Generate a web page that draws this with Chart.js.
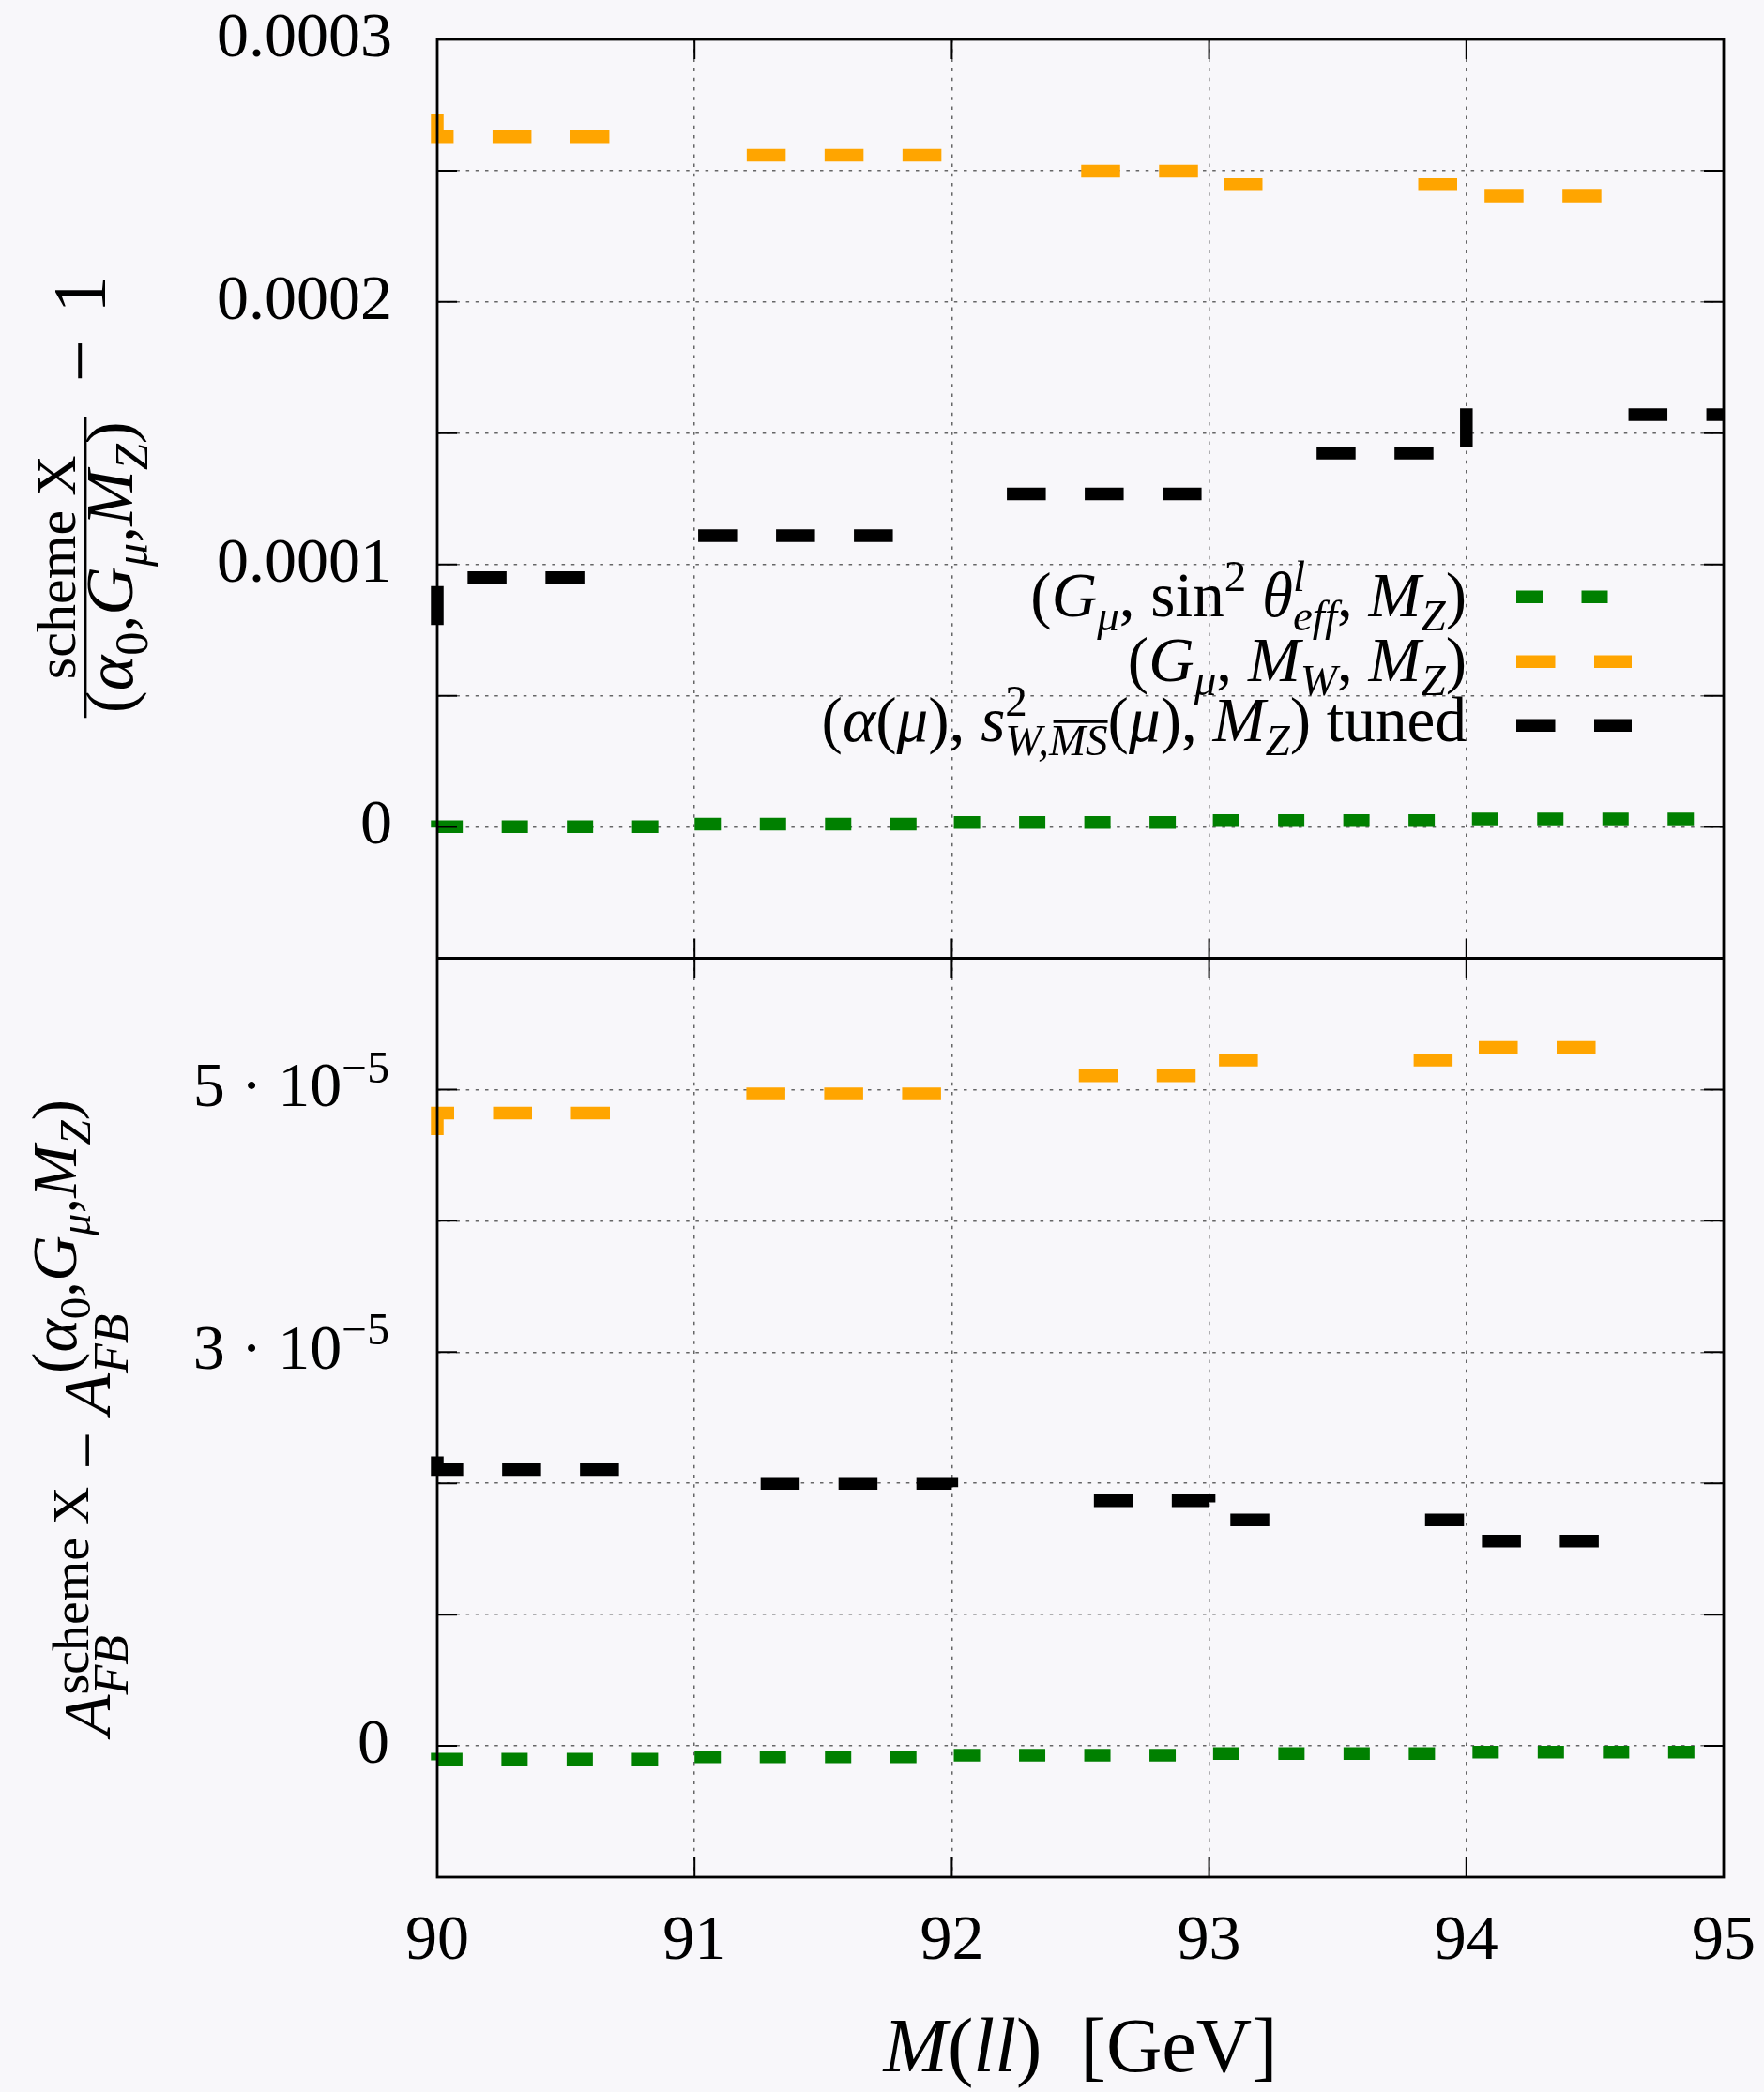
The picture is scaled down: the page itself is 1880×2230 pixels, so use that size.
<!DOCTYPE html>
<html>
<head>
<meta charset="utf-8">
<title>Scheme comparison around the Z peak</title>
<script src="https://cdn.jsdelivr.net/npm/chart.js@4.4.1/dist/chart.umd.min.js"></script>
<style>
  html, body { margin: 0; padding: 0; background: #f8f7fa; }
  canvas { display: block; }
</style>
</head>
<body>
<canvas id="schemeChart" width="1880" height="2230"></canvas>
<script>
// M(ll) in GeV; each value is the level drawn over the bin ending at that point
const massPoints = [90, 91, 92, 93, 94, 95, 96];

// upper panel: scheme X / (alpha0, Gmu, MZ) - 1
const ratioSinEff = [-2e-7, 1e-7, 1.13e-6, 1.73e-6, 2.44e-6, 3.1e-6];
const ratioMW = [2.715e-4, 2.629e-4, 2.559e-4, 2.498e-4, 2.447e-4, 2.403e-4];
const ratioMSbar = [7.69e-5, 9.5e-5, 1.11e-4, 1.269e-4, 1.424e-4, 1.571e-4, 1.623e-4];

// lower panel: A_FB(scheme X) - A_FB(alpha0, Gmu, MZ)
const afbSinEff = [-1.1e-6, -1.02e-6, -8.3e-7, -7.1e-7, -5.9e-7, -4.8e-7];
const afbMW = [4.653e-5, 4.821e-5, 4.968e-5, 5.105e-5, 5.224e-5, 5.321e-5];
const afbMSbar = [2.205e-5, 2.106e-5, 1.999e-5, 1.868e-5, 1.721e-5, 1.561e-5];

// ticks and tick labels
const massTicks = [90, 91, 92, 93, 94, 95];
const ratioTicks = [-5e-5, 0, 5e-5, 1e-4, 1.5e-4, 2e-4, 2.5e-4, 3e-4];
const ratioLabelled = [0, 0.0001, 0.0002, 0.0003];
const ratioLabelText = ['0', '0.0001', '0.0002', '0.0003'];
const afbTicks = [-1e-5, 0, 1e-5, 2e-5, 3e-5, 4e-5, 5e-5, 6e-5];
const afbLabelled = [0, 3e-5, 5e-5];
const afbLabelMant = ['0', '3', '5'];
const afbLabelExp = ['', '−5', '−5'];

const FAM = '"Liberation Serif", "Times New Roman", serif';
const GREEN = '#008000', ORANGE = '#ffa500', BLACK = '#000000';
const GRID = 'rgba(40,40,40,0.7)';
const longDash = [41.5, 41.5, 41.5, 41.5, 41.5, 166];
const shortDash = [28, 41.5];

// little rich-text helpers for the LaTeX-ish labels
const up = t => ({ t });
const it = t => ({ t, it: true });
const sb = (t, upright) => ({ t, it: !upright, k: 0.7, dy: 0.22 });
const sp = (t, italic) => ({ t, it: !!italic, k: 0.7, dy: -0.4 });
const over = r => Object.assign({}, r, { over: true });
const stack = (top, bottom) => ({ stack: [top, bottom] });

const refSchemeRuns = [up('('), it('α'), sb('0', true), up(','), it('G'), sb('μ'), up(','), it('M'), sb('Z'), up(')')];
const legendRows = [
  [up('('), it('G'), sb('μ'), up(', sin'), sp('2'), up(' '), it('θ'), stack([sp('l', true)], [sb('eff')]), up(', '), it('M'), sb('Z'), up(')')],
  [up('('), it('G'), sb('μ'), up(', '), it('M'), sb('W'), up(', '), it('M'), sb('Z'), up(')')],
  [up('('), it('α'), up('('), it('μ'), up('), '), it('s'), stack([sp('2')], [sb('W,'), over(sb('MS'))]), up('('), it('μ'), up('), '), it('M'), sb('Z'), up(') tuned')]
];

function setFont(ctx, r, size) {
  ctx.font = (r.it ? 'italic ' : '') + (size * (r.k || 1)).toFixed(2) + 'px ' + FAM;
}
function runWidth(ctx, r, size) {
  if (r.stack) return Math.max(runsWidth(ctx, r.stack[0], size), runsWidth(ctx, r.stack[1], size));
  setFont(ctx, r, size);
  return ctx.measureText(r.t).width;
}
function runsWidth(ctx, runs, size) {
  let w = 0;
  for (const r of runs) w += runWidth(ctx, r, size);
  return w;
}
function drawRuns(ctx, runs, size, x, y) {
  let cx = x;
  for (const r of runs) {
    if (r.stack) {
      drawRuns(ctx, r.stack[0], size, cx, y);
      drawRuns(ctx, r.stack[1], size, cx, y);
    } else {
      setFont(ctx, r, size);
      const yy = y + (r.dy || 0) * size;
      ctx.fillText(r.t, cx, yy);
      if (r.over) {
        const s = size * (r.k || 1);
        const w = ctx.measureText(r.t).width;
        ctx.fillRect(cx + 0.1 * s, yy - 0.8 * s, w - 0.1 * s, Math.max(2.5, 0.07 * s));
      }
    }
    cx += runWidth(ctx, r, size);
  }
  return cx - x;
}
function drawCentered(ctx, runs, size, c, y) {
  drawRuns(ctx, runs, size, c - runsWidth(ctx, runs, size) / 2, y);
}
function fitSize(ctx, runs, target) {
  return 100 * target / runsWidth(ctx, runs, 100);
}

function pts(values) {
  return values.map((v, i) => ({ x: massPoints[i], y: v }));
}
function series(label, values, color, dash, axis) {
  return {
    label, data: pts(values), yAxisID: axis,
    borderColor: color, backgroundColor: color,
    borderWidth: 13.5, borderDash: dash, stepped: 'after',
    pointRadius: 0, fill: false, clip: 7
  };
}

function inner(c) {
  const s = c.scale;
  return c.tick.value > s.min + 1e-12 && c.tick.value < s.max - 1e-12 ? GRID : 'rgba(0,0,0,0)';
}
function fixedTicks(list) {
  return s => { s.ticks = list.map(v => ({ value: v })); };
}

const framePlugin = {
  id: 'frame',
  afterDatasetsDraw(chart) {
    const { ctx, chartArea: a, scales } = chart;
    const x = scales.x, yT = scales.yTop, yB = scales.yBot;
    const mid = yB.top;
    const tl = 21;
    ctx.save();
    ctx.strokeStyle = '#000';
    ctx.lineWidth = 2.8;
    ctx.strokeRect(a.left, a.top, a.right - a.left, a.bottom - a.top);
    ctx.beginPath();
    ctx.moveTo(a.left, mid);
    ctx.lineTo(a.right, mid);
    ctx.stroke();
    ctx.lineWidth = 2;
    ctx.beginPath();
    for (const s of [yT, yB]) {
      for (const t of s.ticks) {
        const py = s.getPixelForValue(t.value);
        if (py <= s.top + 1 || py >= s.bottom - 1) continue;
        ctx.moveTo(a.left, py); ctx.lineTo(a.left + tl, py);
        ctx.moveTo(a.right, py); ctx.lineTo(a.right - tl, py);
      }
    }
    for (const t of x.ticks) {
      const px = x.getPixelForValue(t.value);
      if (px <= a.left + 1 || px >= a.right - 1) continue;
      ctx.moveTo(px, a.top); ctx.lineTo(px, a.top + tl);
      ctx.moveTo(px, mid - tl); ctx.lineTo(px, mid + tl);
      ctx.moveTo(px, a.bottom); ctx.lineTo(px, a.bottom - tl);
    }
    ctx.stroke();
    ctx.restore();
  }
};

const textPlugin = {
  id: 'mathText',
  afterDraw(chart) {
    const { ctx, chartArea: a, scales } = chart;
    const yT = scales.yTop, yB = scales.yBot;
    ctx.save();
    ctx.fillStyle = '#000';
    ctx.textBaseline = 'alphabetic';
    ctx.textAlign = 'left';

    // lower panel tick labels (powers of ten)
    afbLabelled.forEach((v, i) => {
      const runs = [up(afbLabelMant[i])];
      if (afbLabelExp[i]) runs.push(up(' · '), up('10'), { t: afbLabelExp[i], k: 0.7, dy: -0.38 });
      const w = runsWidth(ctx, runs, 68);
      drawRuns(ctx, runs, 68, a.left - 51 - w, yB.getPixelForValue(v) + 18);
    });

    // x title
    const xt = [it('M'), up('('), it('ll'), up(')  [GeV]')];
    const xs = fitSize(ctx, xt, 420);
    drawCentered(ctx, xt, xs, (a.left + a.right) / 2, a.bottom + 207);

    // legend
    const rowY = [594.3, 663.3, 731.3].map(v => v + yT.top);
    const lsize = legendRows.map((r, i) => fitSize(ctx, r, [464, 361, 689][i])).reduce((p, q) => p + q) / 3;
    const textRight = a.right - 274;
    legendRows.forEach((runs, i) => {
      const ds = chart.data.datasets[i];
      const w = runsWidth(ctx, runs, lsize);
      drawRuns(ctx, runs, lsize, textRight - w, rowY[i] + (i === 2 ? 17 : 21));
      ctx.save();
      ctx.strokeStyle = ds.borderColor;
      ctx.lineWidth = ds.borderWidth;
      ctx.setLineDash(ds.borderDash);
      ctx.beginPath();
      ctx.moveTo(a.right - 221, rowY[i]);
      ctx.lineTo(a.right - 98, rowY[i]);
      ctx.stroke();
      ctx.restore();
    });

    // rotated y titles: local (u, v) maps to screen (v, -u)
    ctx.rotate(-Math.PI / 2);

    // upper: fraction minus one
    const cT = (yT.top + yT.bottom) / 2;
    const fracC = -(cT + 73);
    const num = [up('scheme X')];
    drawCentered(ctx, num, fitSize(ctx, num, 239), fracC, 80);
    drawCentered(ctx, refSchemeRuns, fitSize(ctx, refSchemeRuns, 311), fracC, 141);
    ctx.fillRect(fracC - 160.5, 89.2, 321, 3.2);
    drawCentered(ctx, [up('−')], 80, -(cT - 147), 112);
    drawCentered(ctx, [up('1')], 80, -(cT - 218), 112);

    // lower: A_FB^scheme X - A_FB^(alpha0, Gmu, MZ)
    const cB = (yB.top + yB.bottom) / 2;
    const mainSize = 72, scr = 52;
    const sup1 = [up('scheme X')];
    const s1 = fitSize(ctx, sup1, 222);
    const s2 = fitSize(ctx, refSchemeRuns, 292);
    const fb = [it('FB')];
    const wA = runsWidth(ctx, [it('A')], mainSize);
    const wMinus = runsWidth(ctx, [up(' − ')], mainSize);
    const w1 = Math.max(runsWidth(ctx, sup1, s1), runsWidth(ctx, fb, scr));
    const w2 = Math.max(runsWidth(ctx, refSchemeRuns, s2), runsWidth(ctx, fb, scr));
    const total = wA + w1 + wMinus + wA + w2;
    let u = -cB - total / 2;
    drawRuns(ctx, [it('A')], mainSize, u, 117); u += wA;
    drawRuns(ctx, sup1, s1, u, 94);
    drawRuns(ctx, fb, scr, u, 136); u += w1;
    drawRuns(ctx, [up(' − ')], mainSize, u, 117); u += wMinus;
    drawRuns(ctx, [it('A')], mainSize, u, 117); u += wA;
    drawRuns(ctx, refSchemeRuns, s2, u, 81);
    drawRuns(ctx, fb, scr, u, 136);

    ctx.restore();
  }
};

Chart.defaults.font.family = FAM;

new Chart(document.getElementById('schemeChart').getContext('2d'), {
  type: 'line',
  data: {
    datasets: [
      series('(Gmu, sin2 theta_eff, MZ)', ratioSinEff, GREEN, shortDash, 'yTop'),
      series('(Gmu, MW, MZ)', ratioMW, ORANGE, longDash, 'yTop'),
      series('(alpha(mu), s2W MSbar(mu), MZ) tuned', ratioMSbar, BLACK, longDash, 'yTop'),
      series('(Gmu, sin2 theta_eff, MZ) AFB', afbSinEff, GREEN, shortDash, 'yBot'),
      series('(Gmu, MW, MZ) AFB', afbMW, ORANGE, longDash, 'yBot'),
      series('(alpha(mu), s2W MSbar(mu), MZ) tuned AFB', afbMSbar, BLACK, longDash, 'yBot')
    ]
  },
  options: {
    responsive: false,
    animation: false,
    devicePixelRatio: 1,
    layout: { padding: { top: 42, right: 43, bottom: 0, left: 0 } },
    plugins: { legend: { display: false }, tooltip: { enabled: false } },
    scales: {
      x: {
        type: 'linear', position: 'bottom', min: 90, max: 95,
        afterBuildTicks: fixedTicks(massTicks),
        ticks: { autoSkip: false, maxRotation: 0, padding: 28, color: '#000', font: { size: 68 } },
        grid: { color: inner, lineWidth: 1.5, drawTicks: false },
        border: { display: false, dash: [3.5, 6.7] },
        afterFit(s) { s.height = 229; s.paddingLeft = 0; s.paddingRight = 0; }
      },
      yBot: {
        type: 'linear', position: 'left', stack: 'panels', stackWeight: 1,
        min: -1e-5, max: 6e-5,
        afterBuildTicks: fixedTicks(afbTicks),
        ticks: { autoSkip: false, callback: () => '', font: { size: 68 } },
        grid: { color: inner, lineWidth: 1.5, drawTicks: false },
        border: { display: false, dash: [3.5, 6.7] },
        afterFit(s) { s.width = 466; s.paddingTop = 0; s.paddingBottom = 0; }
      },
      yTop: {
        type: 'linear', position: 'left', stack: 'panels', stackWeight: 1,
        min: -5e-5, max: 3e-4,
        afterBuildTicks: fixedTicks(ratioTicks),
        ticks: {
          autoSkip: false, padding: 48, color: '#000', font: { size: 68 },
          callback(v) {
            const i = ratioLabelled.findIndex(r => Math.abs(r - v) < 1e-10);
            return i < 0 ? '' : ratioLabelText[i];
          }
        },
        grid: { color: inner, lineWidth: 1.5, drawTicks: false },
        border: { display: false, dash: [3.5, 6.7] },
        afterFit(s) { s.width = 466; s.paddingTop = 0; s.paddingBottom = 0; }
      }
    }
  },
  plugins: [framePlugin, textPlugin]
});
</script>
</body>
</html>
